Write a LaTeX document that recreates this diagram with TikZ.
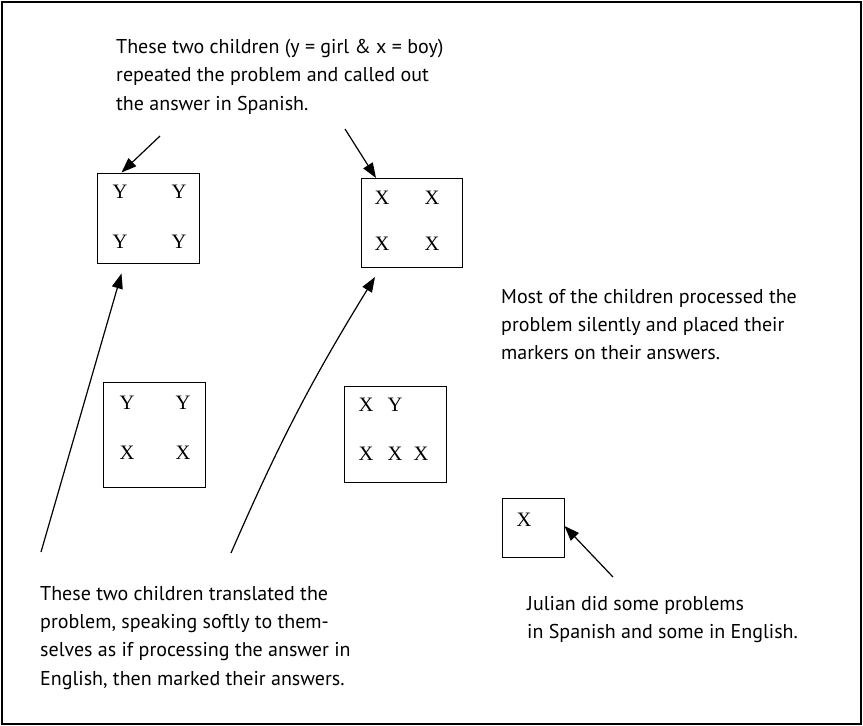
\documentclass[tikz,border=0pt]{standalone}
\usepackage{fontspec}
\usepackage{tikz}
\usetikzlibrary{arrows.meta,positioning}
\newfontfamily\notefont{PT Sans}
\newfontfamily\markfont{Liberation Serif}

\begin{document}
\begin{tikzpicture}[x=1pt,y=-1pt,
  group/.style={draw,line width=1pt,inner sep=0pt},
  letter/.style={font=\markfont\fontsize{20.5}{20.5}\selectfont,inner sep=0pt},
  note/.style={font=\notefont\fontsize{20}{28.3}\selectfont,align=left,
    anchor=north west,inner sep=0pt},
  pointer/.style={-{Triangle[length=15pt,width=11pt]},line width=1.2pt}]
\useasboundingbox (0,0) rectangle (863,726);
\draw[line width=2.6pt] (2,2) rectangle (861,724);
% children's groups
\node[group,minimum width=102pt,minimum height=90pt] (yyyy) at (148,218) {};
\node[group,minimum width=101pt,minimum height=89pt] (xxxx) at (412,223) {};
\node[group,minimum width=102pt,minimum height=105pt] (yyxx) at (154,435) {};
\node[group,minimum width=102pt,minimum height=96pt] (xyxxx) at (395,434) {};
\node[group,minimum width=62pt,minimum height=59pt] (julian) at (533,528) {};
\node[letter] at (120,192) {Y};
\node[letter] at (179,192) {Y};
\node[letter] at (120,242) {Y};
\node[letter] at (179,242) {Y};
\node[letter] at (382,198) {X};
\node[letter] at (432,198) {X};
\node[letter] at (382,244) {X};
\node[letter] at (432,244) {X};
\node[letter] at (127,403) {Y};
\node[letter] at (183,403) {Y};
\node[letter] at (127,453) {X};
\node[letter] at (183,453) {X};
\node[letter] at (366,405) {X};
\node[letter] at (395,405) {Y};
\node[letter] at (366,454) {X};
\node[letter] at (395,454) {X};
\node[letter] at (421,454) {X};
\node[letter] at (524,520) {X};
% notes
\node[note] (spanish) at (116,39) {These two children (y = girl \& x = boy)\\
  repeated the problem and called out\\the answer in Spanish.};
\node[note] (silent) at (501,289) {Most of the children processed the\\
  problem silently and placed their\\markers on their answers.};
\node[note] (english) at (40,586) {These two children translated the\\
  problem, speaking softly to them-\\selves as if processing the answer in\\
  English, then marked their answers.};
\node[note] (mixed) at (527,596) {Julian did some problems\\
  in Spanish and some in English.};
% pointers
\coordinate (s1) at (160,136);
\coordinate (s2) at (345,129);
\coordinate (e1) at (41,552);
\coordinate (e2) at (231,553);
\coordinate (m1) at (613,577);
\draw[pointer] (s1) -- ([xshift=25pt]yyyy.north west);
\draw[pointer] (s2) -- ([xshift=15pt]xxxx.north west);
\draw[pointer] (e1) -- ([xshift=25pt,yshift=-10pt]yyyy.south west);
\draw[pointer] (e2) to[bend left=4] ([xshift=14pt,yshift=-9pt]xxxx.south west);
\draw[pointer] (m1) -- ([yshift=2pt]julian.east);
\end{tikzpicture}
\end{document}
